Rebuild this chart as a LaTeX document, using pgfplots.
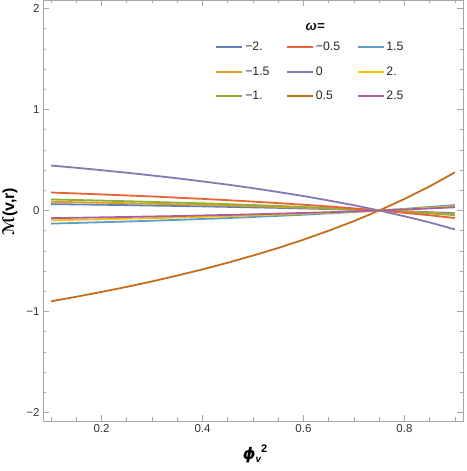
\documentclass[border=0pt]{standalone}
\usepackage{fontspec}
\setmainfont{Liberation Sans}
\newfontfamily\dejavu{DejaVu Sans}
\usepackage{pgfplots}
\usepackage{pgfplotstable}
\pgfplotsset{compat=1.18}

% Mathematica default palette (ColorData 97)
\definecolor{c1}{rgb}{0.368417,0.506779,0.709798}
\definecolor{c2}{rgb}{0.880722,0.611041,0.142051}
\definecolor{c3}{rgb}{0.560181,0.691569,0.194885}
\definecolor{c4}{rgb}{0.922526,0.385626,0.209179}
\definecolor{c5}{rgb}{0.528488,0.470624,0.701351}
\definecolor{c6}{rgb}{0.772079,0.431554,0.102387}
\definecolor{c7}{rgb}{0.363898,0.618501,0.782349}
\definecolor{c8}{rgb}{1,0.75,0}
\definecolor{c9}{rgb}{0.647624,0.37816,0.614037}

% columns: phi_v^2, then one column per omega
\pgfplotstableread{
x    m2     m15    m1     m05    z      p05    p15    p2     p25
0.10 0.063  0.086  0.109  0.178  0.445  -0.899 -0.130 -0.097 -0.076
0.15 0.060  0.082  0.104  0.169  0.423  -0.854 -0.123 -0.092 -0.072
0.20 0.057  0.077  0.098  0.159  0.399  -0.806 -0.116 -0.087 -0.068
0.25 0.053  0.072  0.092  0.149  0.374  -0.756 -0.109 -0.081 -0.064
0.30 0.049  0.067  0.085  0.139  0.347  -0.702 -0.101 -0.076 -0.059
0.35 0.045  0.061  0.078  0.127  0.319  -0.644 -0.093 -0.069 -0.055
0.40 0.041  0.056  0.071  0.115  0.288  -0.583 -0.084 -0.063 -0.049
0.45 0.036  0.049  0.063  0.102  0.256  -0.517 -0.075 -0.056 -0.044
0.50 0.031  0.043  0.054  0.088  0.221  -0.446 -0.064 -0.048 -0.038
0.55 0.026  0.035  0.045  0.073  0.183  -0.371 -0.053 -0.040 -0.031
0.60 0.020  0.028  0.035  0.057  0.143  -0.289 -0.042 -0.031 -0.024
0.65 0.014  0.019  0.024  0.040  0.099  -0.200 -0.029 -0.022 -0.017
0.70 0.007  0.010  0.013  0.021  0.052  -0.105 -0.015 -0.011 -0.009
0.75 0.000  0.000  0.000  0.000  0.000  0.000  0.000  0.000  0.000
0.80 -0.008 -0.011 -0.014 -0.023 -0.057 0.114  0.016  0.012  0.010
0.85 -0.017 -0.023 -0.029 -0.047 -0.118 0.239  0.035  0.026  0.020
0.90 -0.027 -0.036 -0.046 -0.075 -0.187 0.378  0.054  0.041  0.032
}\datatable

\begin{document}
\begin{tikzpicture}
\begin{axis}[
    scale only axis,
    width=420pt, height=421pt,
    xmin=0.084, xmax=0.916,
    ymin=-2.084, ymax=2.084,
    axis line style={black!35, line width=0.8pt},
    tick style={black!35, line width=0.7pt},
    tick align=inside,
    major tick length=6pt,
    minor tick length=3.5pt,
    xtick={0.2,0.4,0.6,0.8},
    xticklabels={0.2,0.4,0.6,0.8},
    minor xtick={0.1,0.15,0.25,0.3,0.35,0.45,0.5,0.55,0.65,0.7,0.75,0.85,0.9},
    ytick={-2,-1,0,1,2},
    yticklabels={−2,−1,0,1,2},
    minor ytick={-2,-1.8,-1.6,-1.4,-1.2,-0.8,-0.6,-0.4,-0.2,0.2,0.4,0.6,0.8,1.2,1.4,1.6,1.8},
    ticklabel style={font=\fontsize{11.5}{13}\selectfont, text=black!80},
    xlabel={{\dejavu\bfseries\itshape ϕ}\raisebox{-3pt}{\fontsize{10}{12}\selectfont\bfseries\itshape v}\raisebox{7pt}{\fontsize{11}{12}\selectfont\bfseries 2}},
    xlabel style={at={(axis description cs:0.505,-0.078)}, anchor=center, font=\fontsize{16}{18}\selectfont},
    ylabel={{\dejavu\bfseries ℳ}\bfseries(v,r)},
    ylabel style={at={(axis description cs:-0.079,0.497)}, anchor=center, font=\fontsize{16}{18}\selectfont},
    every axis plot/.append style={line width=1.8pt},
    legend columns=3,
    transpose legend,
    legend cell align=left,
    legend image code/.code={\draw[#1, line width=1.8pt] (0pt,0pt) -- (26pt,0pt);},
    legend style={draw=none, fill=none, at={(axis description cs:0.403,0.91)}, anchor=north west,
        font=\fontsize{12.3}{14}\selectfont, text=black!85, row sep=10.5pt,
        /tikz/every even column/.append style={column sep=14.5pt}},
]
\addplot[c1] table[x=x, y=m2] {\datatable};
\addplot[c2] table[x=x, y=m15] {\datatable};
\addplot[c3] table[x=x, y=m1] {\datatable};
\addplot[c4] table[x=x, y=m05] {\datatable};
\addplot[c5] table[x=x, y=z] {\datatable};
\addplot[c6] table[x=x, y=p05] {\datatable};
\addplot[c7] table[x=x, y=p15] {\datatable};
\addplot[c8] table[x=x, y=p2] {\datatable};
\addplot[c9] table[x=x, y=p25] {\datatable};
\legend{−2.,−1.5,−1.,−0.5,0,0.5,1.5,2.,2.5}
\node[font=\fontsize{13.5}{15}\selectfont\bfseries\itshape, text=black!90] at (axis description cs:0.648,0.936) {ω=};
\end{axis}
\pgfresetboundingbox
\path ([xshift=-43pt,yshift=-50pt]current axis.south west) rectangle ([xshift=3pt]current axis.north east);
\end{tikzpicture}
\end{document}
